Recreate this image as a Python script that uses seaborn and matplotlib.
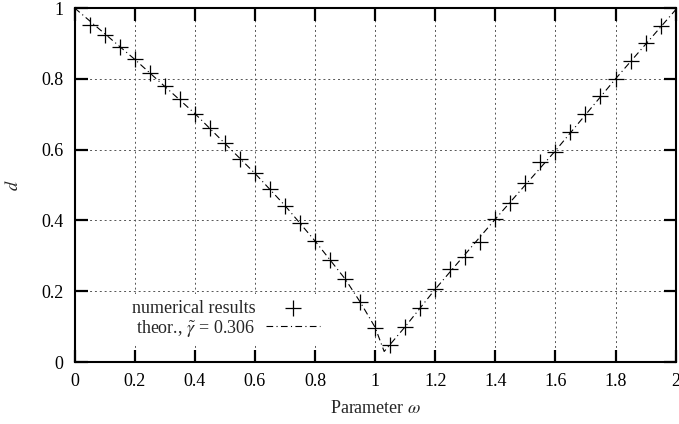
import numpy as np
import pandas as pd
import matplotlib
matplotlib.use("Agg")
import matplotlib.pyplot as plt
import seaborn as sns

# valeurs
omega = [0.05, 0.10, 0.15, 0.20, 0.25, 0.30, 0.35, 0.40, 0.45, 0.50,
         0.55, 0.60, 0.65, 0.70, 0.75, 0.80, 0.85, 0.90, 0.95, 1.00,
         1.05, 1.10, 1.15, 1.20, 1.25, 1.30, 1.35, 1.40, 1.45, 1.50,
         1.55, 1.60, 1.65, 1.70, 1.75, 1.80, 1.85, 1.90, 1.95]
d_num = [0.953, 0.925, 0.891, 0.855, 0.817, 0.780, 0.742, 0.702, 0.660, 0.619,
         0.575, 0.533, 0.488, 0.440, 0.394, 0.342, 0.288, 0.235, 0.170, 0.096,
         0.048, 0.100, 0.152, 0.206, 0.262, 0.296, 0.340, 0.404, 0.450, 0.506,
         0.564, 0.594, 0.650, 0.702, 0.751, 0.801, 0.850, 0.900, 0.949]

# courbe theorique, lue aussi sur la figure
omega_th = [0.0, 0.2, 0.4, 0.6, 0.7, 0.8, 0.9, 0.95, 1.0, 1.03,
            1.1, 1.2, 1.4, 1.6, 1.8, 2.0]
d_th = [1.0, 0.855, 0.702, 0.533, 0.442, 0.342, 0.235, 0.17, 0.098, 0.03,
        0.10, 0.206, 0.404, 0.597, 0.800, 0.995]

x_ticks = [0, 0.2, 0.4, 0.6, 0.8, 1, 1.2, 1.4, 1.6, 1.8, 2]
x_labels = ["0", "0.2", "0.4", "0.6", "0.8", "1", "1.2", "1.4", "1.6", "1.8", "2"]
y_ticks = [0, 0.2, 0.4, 0.6, 0.8, 1]
y_labels = ["0", "0.2", "0.4", "0.6", "0.8", "1"]

df_num = pd.DataFrame({"omega": omega, "d": d_num})
df_th = pd.DataFrame({"omega": omega_th, "d": d_th})

sns.set_theme(style="ticks")
plt.rcParams["font.family"] = ["Liberation Serif", "DejaVu Serif"]
plt.rcParams["mathtext.fontset"] = "stix"

fig = plt.figure(figsize=(6.79, 4.24), dpi=100)
ax = fig.add_axes([0.110, 0.146, 0.885, 0.835])

sns.lineplot(data=df_th, x="omega", y="d", ax=ax, color="black",
             linewidth=0.8, linestyle=(0, (6, 3, 1, 3)), errorbar=None)
sns.scatterplot(data=df_num, x="omega", y="d", ax=ax, marker="+",
                s=130, color="black", linewidth=0.9, zorder=3)

ax.set_xlim(0, 2)
ax.set_ylim(0, 1)
ax.set_xticks(x_ticks)
ax.set_xticklabels(x_labels)
ax.set_yticks(y_ticks)
ax.set_yticklabels(y_labels)

ax.grid(True, linestyle=(0, (2, 3)), color="#555555", linewidth=0.7)
ax.tick_params(direction="in", length=9, width=1.6, top=True, right=True,
               labelsize=13, colors="black", pad=8)
for s in ax.spines.values():
    s.set_linewidth(1.5)
    s.set_color("black")

ax.set_xlabel(r"Parameter $\omega$", fontsize=13, labelpad=7)
ax.set_ylabel(r"$d$", fontsize=13, labelpad=14)

h_line = ax.lines[0]
h_pts = ax.collections[-1]
leg = ax.legend([h_pts, h_line],
                ["numerical results", r"theor., $\tilde{\gamma}$ = 0.306"],
                markerfirst=False, loc="lower right",
                bbox_to_anchor=(0.433, 0.025), frameon=True, fontsize=13,
                handlelength=3.0, borderpad=0.3, labelspacing=0.05,
                handletextpad=0.6)
leg.get_frame().set_edgecolor("none")
leg.get_frame().set_facecolor("white")
leg.get_frame().set_alpha(1.0)
leg.get_frame().set_boxstyle("square", pad=0)

fig.savefig("out.png", dpi=100)
